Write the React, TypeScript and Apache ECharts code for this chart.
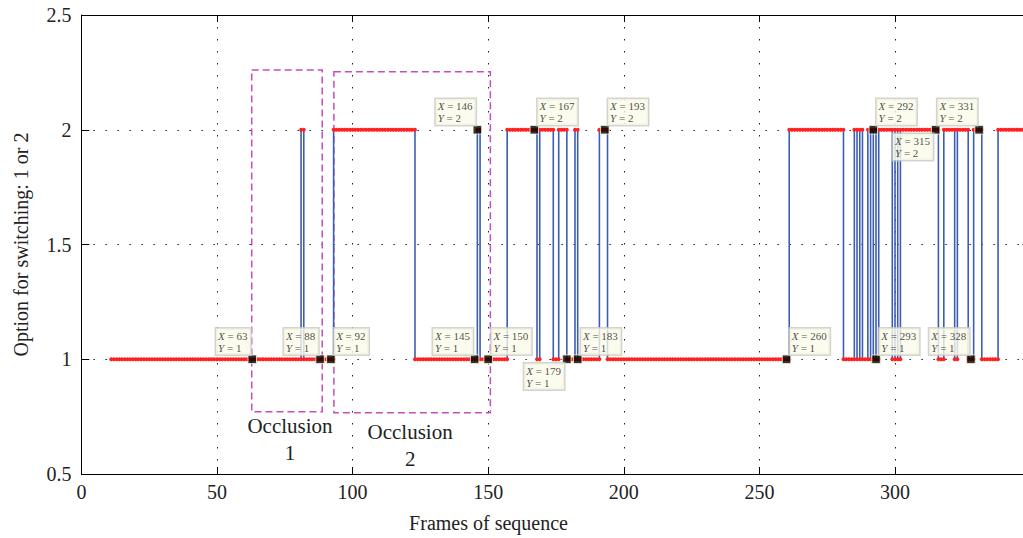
import React, { useEffect, useRef } from "react";
import * as echarts from "echarts";

// ---- data ----
const firstFrame = 11;
const lastFrame = 347;
const startOption = 1;
// frames at which the chosen option switches (1 <-> 2)
const switchFrames = [
  81, 82, 93, 123, 146, 147, 157, 168, 169, 174, 176, 179, 182, 183, 191, 194,
  261, 281, 285, 286, 287, 288, 290, 291, 292, 293, 294, 299, 300, 301, 302,
  316, 318, 322, 323, 327, 329, 332, 338,
];

const xMin = 0;
const xMax = 350;
const xStep = 50;
const yMin = 0.5;
const yMax = 2.5;
const yStep = 0.5;

// data tips
const tipFrames = [63, 88, 92, 145, 146, 150, 167, 179, 183, 193, 260, 292, 293, 315, 328, 331];
const tipOptions = [1, 1, 1, 1, 2, 1, 2, 1, 1, 2, 1, 2, 1, 2, 1, 2];
const tipSides = ["ul", "ul", "ur", "ul", "ul", "ur", "ur", "dl", "ur", "ur", "ur", "ur", "ur", "dl", "ul", "ul"];

// occlusion boxes
const occlusionNames = ["Occlusion\n1", "Occlusion\n2"];
const occlusionFrames = [
  [62.8, 88.8],
  [93.1, 150.8],
];
const occlusionOptions = [
  [0.771, 2.26],
  [0.767, 2.253],
];

const FONT = "Liberation Serif";

function buildPoints(): number[][] {
  const pts: number[][] = [];
  let level = startOption;
  let ti = 0;
  for (let f = firstFrame; f <= lastFrame; f++) {
    if (ti < switchFrames.length && switchFrames[ti] === f) {
      pts.push([f, level]);
      level = level === 1 ? 2 : 1;
      pts.push([f, level]);
      ti++;
    } else {
      pts.push([f, level]);
    }
  }
  return pts;
}

const sidePlacement: Record<string, any> = {
  ul: { position: [3, 0], align: "right", verticalAlign: "bottom" },
  ur: { position: [8, 0], align: "left", verticalAlign: "bottom" },
  dl: { position: [2, 9], align: "right", verticalAlign: "top" },
};

const labelOffsets = [
  [3, 0],
  [-2, 0],
];
const labelDistances = [0, 5];

export default function App() {
  const ref = useRef<HTMLDivElement>(null);

  useEffect(() => {
    if (!ref.current) return;
    const chart = echarts.init(ref.current, null, { renderer: "svg" });

    const axisLine = { show: true, onZero: false, lineStyle: { color: "#000", width: 1 } };
    const gridDots = { show: true, lineStyle: { color: "#222", width: 1, type: [1.5, 10.5] } };

    const tipData = tipFrames.map((f, i) => ({
      value: [f, tipOptions[i]],
      label: { ...sidePlacement[tipSides[i]] },
    }));

    const areaData = occlusionNames.map((name, i) => [
      {
        name,
        coord: [occlusionFrames[i][0], occlusionOptions[i][1]],
        label: { offset: labelOffsets[i], distance: labelDistances[i] },
      },
      { coord: [occlusionFrames[i][1], occlusionOptions[i][0]] },
    ]);

    const tipText = { fontFamily: FONT, fontSize: 11, color: "#1a1a1a", lineHeight: 12, align: "left" };

    chart.setOption({
      animation: false,
      backgroundColor: "#fff",
      grid: { left: 81.4, top: 15, width: 949.2, height: 459 },
      xAxis: [
        {
          type: "value",
          min: xMin,
          max: xMax,
          interval: xStep,
          position: "bottom",
          axisLine,
          axisTick: { show: true, inside: true, length: 7, lineStyle: { color: "#000" } },
          axisLabel: {
            color: "#222",
            fontFamily: FONT,
            fontSize: 20,
            margin: 8,
            showMaxLabel: false,
          },
          splitLine: gridDots,
          name: "Frames of sequence",
          nameLocation: "middle",
          nameGap: 39,
          nameTextStyle: { color: "#222", fontFamily: FONT, fontSize: 20, padding: [0, 135, 0, 0] },
        },
        {
          type: "value",
          min: xMin,
          max: xMax,
          interval: xStep,
          position: "top",
          axisLine,
          axisTick: { show: true, inside: true, length: 7, lineStyle: { color: "#000" } },
          axisLabel: { show: false },
          splitLine: { show: false },
        },
      ],
      yAxis: [
        {
          type: "value",
          min: yMin,
          max: yMax,
          interval: yStep,
          position: "left",
          axisLine,
          axisTick: { show: true, inside: true, length: 8, lineStyle: { color: "#000" } },
          axisLabel: { color: "#222", fontFamily: FONT, fontSize: 20, margin: 10 },
          splitLine: gridDots,
          name: "Option for switching: 1 or 2",
          nameLocation: "middle",
          nameRotate: 90,
          nameGap: 50,
          nameTextStyle: { color: "#222", fontFamily: FONT, fontSize: 20 },
        },
        {
          type: "value",
          min: yMin,
          max: yMax,
          interval: yStep,
          position: "right",
          axisLine,
          axisTick: { show: true, inside: true, length: 8, lineStyle: { color: "#000" } },
          axisLabel: { show: false },
          splitLine: { show: false },
        },
      ],
      series: [
        {
          type: "line",
          xAxisIndex: 0,
          yAxisIndex: 0,
          data: buildPoints(),
          showSymbol: true,
          showAllSymbol: true,
          symbol: "circle",
          symbolSize: 3.8,
          itemStyle: { color: "#ff2020" },
          lineStyle: { color: "#3b5db2", width: 1.6 },
          z: 2,
          markArea: {
            silent: true,
            itemStyle: {
              color: "rgba(0,0,0,0)",
              borderColor: "#c44fba",
              borderWidth: 1.5,
              borderType: [7, 4],
            },
            label: {
              show: true,
              position: "bottom",
              color: "#222",
              fontFamily: FONT,
              fontSize: 21,
              lineHeight: 27,
            },
            data: areaData,
          },
        },
        {
          type: "scatter",
          xAxisIndex: 0,
          yAxisIndex: 0,
          data: tipData,
          symbol: "rect",
          symbolSize: 8.5,
          itemStyle: { color: "#000", borderColor: "#f4f4cc", borderWidth: 1 },
          z: 5,
          label: {
            show: true,
            formatter: (p: any) => `{i|X}{n| = ${p.value[0]}}\n{i|Y}{n| = ${p.value[1]}}`,
            color: "#1a1a1a",
            fontFamily: FONT,
            fontSize: 11,
            lineHeight: 12,
            backgroundColor: "#fbfbea",
            borderColor: "#c9c9c3",
            borderWidth: 1.5,
            padding: [1, 3, 1, 2],
            rich: {
              i: { ...tipText, fontStyle: "italic" },
              n: { ...tipText },
            },
          },
        },
      ],
    });

    return () => chart.dispose();
  }, []);

  return (
    <div
      style={{
        position: "fixed",
        left: 0,
        top: 0,
        width: 1023,
        height: 538,
        overflow: "hidden",
        background: "#fff",
      }}
    >
      <div ref={ref} style={{ width: 1040, height: 538 }} />
    </div>
  );
}
